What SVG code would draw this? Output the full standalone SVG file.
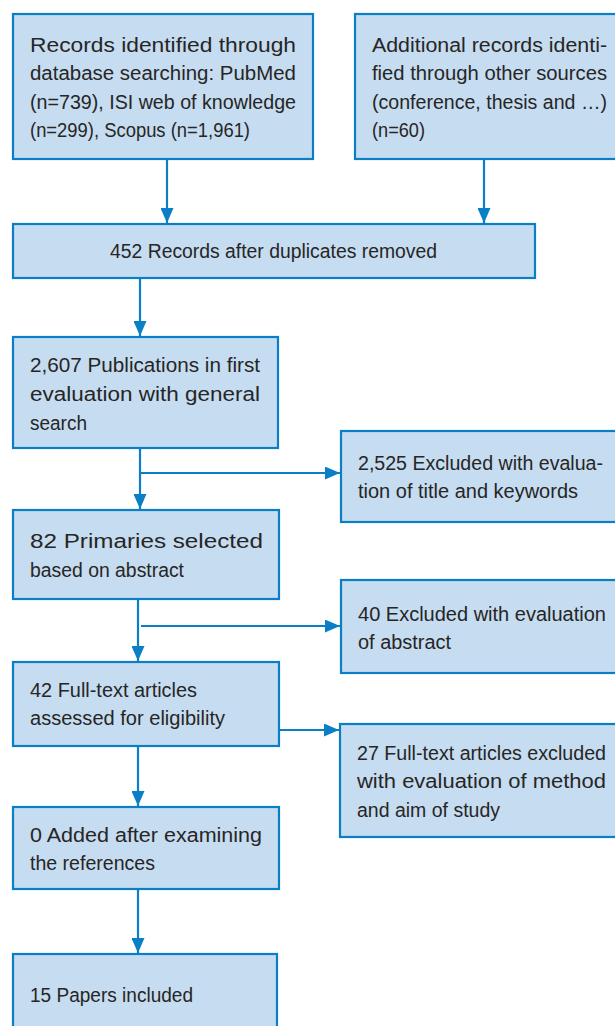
<svg xmlns="http://www.w3.org/2000/svg" width="615" height="1026" viewBox="0 0 615 1026">
<defs>
<style>
.box{fill:#c6dcf0;stroke:#0a7fc6;stroke-width:2.2}
.t{font-family:"Liberation Sans",Arial,sans-serif;font-size:20px;fill:#262626}
.c{fill:none;stroke:#0a7fc6;stroke-width:2.2}
</style>
<marker id="ah" markerUnits="userSpaceOnUse" markerWidth="16" markerHeight="13" refX="15" refY="6.5" orient="auto">
<path d="M0,0 L15,6.5 L0,13 z" fill="#0a7fc6"/>
</marker>
</defs>
<rect width="615" height="1026" fill="#ffffff"/>
<g id="connectors">
<line class="c" x1="167" y1="159" x2="167" y2="223" marker-end="url(#ah)"/>
<line class="c" x1="484" y1="159" x2="484" y2="223" marker-end="url(#ah)"/>
<line class="c" x1="140" y1="278" x2="140" y2="336" marker-end="url(#ah)"/>
<line class="c" x1="140" y1="448" x2="140" y2="509" marker-end="url(#ah)"/>
<line class="c" x1="140" y1="473" x2="340" y2="473" marker-end="url(#ah)"/>
<line class="c" x1="138" y1="599" x2="138" y2="661" marker-end="url(#ah)"/>
<line class="c" x1="141" y1="626" x2="340" y2="626" marker-end="url(#ah)"/>
<line class="c" x1="279" y1="730" x2="339" y2="730" marker-end="url(#ah)"/>
<line class="c" x1="138" y1="746" x2="138" y2="806" marker-end="url(#ah)"/>
<line class="c" x1="138" y1="889" x2="138" y2="953" marker-end="url(#ah)"/>
</g>
<g id="n1">
<rect class="box" x="13" y="14" width="300" height="145"/>
<text class="t" x="30" y="52" textLength="266" lengthAdjust="spacingAndGlyphs">Records identified through</text>
<text class="t" x="30" y="80" textLength="266" lengthAdjust="spacingAndGlyphs">database searching: PubMed</text>
<text class="t" x="30" y="109" textLength="266" lengthAdjust="spacingAndGlyphs">(n=739), ISI web of knowledge</text>
<text class="t" x="30" y="137" textLength="220" lengthAdjust="spacingAndGlyphs">(n=299), Scopus (n=1,961)</text>
</g>
<g id="n2">
<rect class="box" x="355" y="14" width="270" height="145"/>
<text class="t" x="372" y="52" textLength="235" lengthAdjust="spacingAndGlyphs">Additional records identi-</text>
<text class="t" x="372" y="80" textLength="235" lengthAdjust="spacingAndGlyphs">fied through other sources</text>
<text class="t" x="372" y="109" textLength="235" lengthAdjust="spacingAndGlyphs">(conference, thesis and …)</text>
<text class="t" x="372" y="137" textLength="53" lengthAdjust="spacingAndGlyphs">(n=60)</text>
</g>
<g id="n3">
<rect class="box" x="13" y="224" width="522" height="54"/>
<text class="t" x="110" y="258" textLength="327" lengthAdjust="spacingAndGlyphs">452 Records after duplicates removed</text>
</g>
<g id="n4">
<rect class="box" x="13" y="337" width="265" height="111"/>
<text class="t" x="30" y="372" textLength="230" lengthAdjust="spacingAndGlyphs">2,607 Publications in first</text>
<text class="t" x="30" y="401" textLength="230" lengthAdjust="spacingAndGlyphs">evaluation with general</text>
<text class="t" x="30" y="430" textLength="57" lengthAdjust="spacingAndGlyphs">search</text>
</g>
<g id="n5">
<rect class="box" x="341" y="431" width="284" height="91"/>
<text class="t" x="358" y="470" textLength="245" lengthAdjust="spacingAndGlyphs">2,525 Excluded with evalua-</text>
<text class="t" x="358" y="498" textLength="220" lengthAdjust="spacingAndGlyphs">tion of title and keywords</text>
</g>
<g id="n6">
<rect class="box" x="13" y="510" width="266" height="89"/>
<text class="t" x="30" y="548" textLength="233" lengthAdjust="spacingAndGlyphs">82 Primaries selected</text>
<text class="t" x="30" y="577" textLength="154" lengthAdjust="spacingAndGlyphs">based on abstract</text>
</g>
<g id="n7">
<rect class="box" x="341" y="580" width="284" height="93"/>
<text class="t" x="358" y="621" textLength="248" lengthAdjust="spacingAndGlyphs">40 Excluded with evaluation</text>
<text class="t" x="358" y="649" textLength="93" lengthAdjust="spacingAndGlyphs">of abstract</text>
</g>
<g id="n8">
<rect class="box" x="13" y="662" width="266" height="84"/>
<text class="t" x="30" y="697" textLength="167" lengthAdjust="spacingAndGlyphs">42 Full-text articles</text>
<text class="t" x="30" y="725" textLength="195" lengthAdjust="spacingAndGlyphs">assessed for eligibility</text>
</g>
<g id="n9">
<rect class="box" x="340" y="724" width="285" height="113"/>
<text class="t" x="357" y="760" textLength="249" lengthAdjust="spacingAndGlyphs">27 Full-text articles excluded</text>
<text class="t" x="357" y="788" textLength="249" lengthAdjust="spacingAndGlyphs">with evaluation of method</text>
<text class="t" x="357" y="817" textLength="143" lengthAdjust="spacingAndGlyphs">and aim of study</text>
</g>
<g id="n10">
<rect class="box" x="13" y="807" width="266" height="82"/>
<text class="t" x="30" y="842" textLength="232" lengthAdjust="spacingAndGlyphs">0 Added after examining</text>
<text class="t" x="30" y="870" textLength="125" lengthAdjust="spacingAndGlyphs">the references</text>
</g>
<g id="n11">
<rect class="box" x="13" y="954" width="264" height="90"/>
<text class="t" x="30" y="1002" textLength="163" lengthAdjust="spacingAndGlyphs">15 Papers included</text>
</g>
</svg>
